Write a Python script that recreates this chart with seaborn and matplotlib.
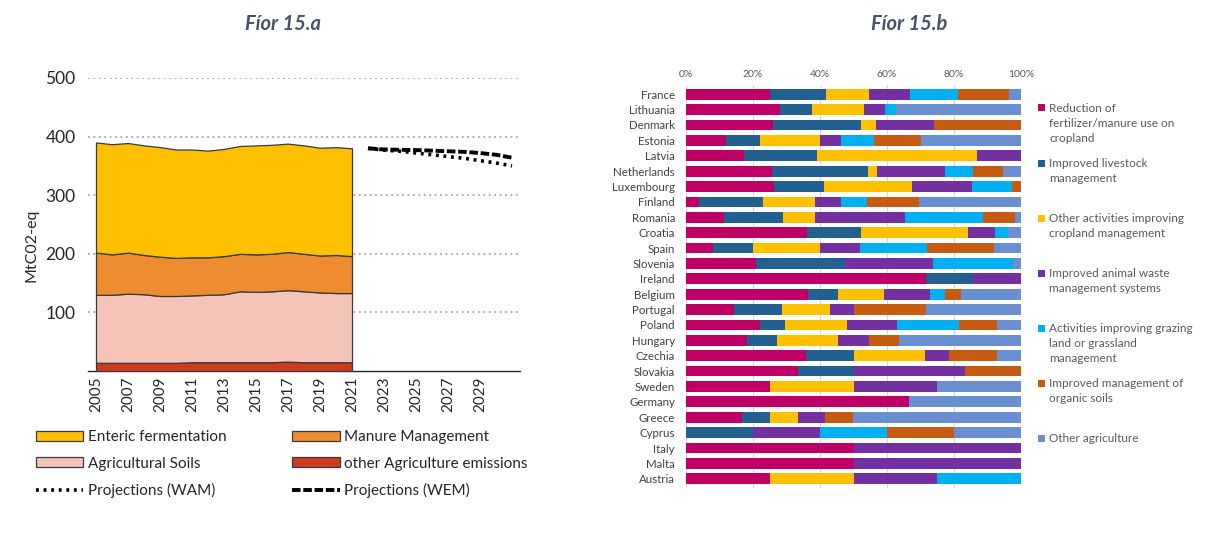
import numpy as np
import matplotlib
matplotlib.use("Agg")
import matplotlib.pyplot as plt
import matplotlib.patches as mpatches
import seaborn as sns

# ---- data: Fíor 15.a (MtCO2-eq) ----
years = list(range(2005, 2022))
other_agri = [14, 14, 14, 14, 14, 14, 15, 15, 15, 15, 15, 15, 16, 15, 15, 15, 15]
agri_soils = [116, 116, 118, 117, 114, 114, 114, 115, 116, 121, 120, 121, 122, 121, 119, 118, 118]
manure = [72, 69, 70, 67, 67, 65, 65, 64, 65, 64, 64, 64, 65, 64, 63, 65, 63]
enteric = [188, 188, 187, 187, 187, 185, 184, 182, 183, 184, 186, 186, 185, 185, 184, 184, 184]

proj_years = list(range(2022, 2032))
proj_wem = [380, 378, 377.5, 377, 376, 375, 374, 372, 369, 364]
proj_wam = [380, 377, 375, 372, 369, 366, 363, 359, 355, 350]

# ---- data: Fíor 15.b (share, %) ----
countries = ["France", "Lithuania", "Denmark", "Estonia", "Latvia", "Netherlands",
             "Luxembourg", "Finland", "Romania", "Croatia", "Spain", "Slovenia",
             "Ireland", "Belgium", "Portugal", "Poland", "Hungary", "Czechia",
             "Slovakia", "Sweden", "Germany", "Greece", "Cyprus", "Italy", "Malta",
             "Austria"]
fertilizer = [25, 28.1, 26.1, 11.9, 17.4, 25.7, 26.4, 3.9, 11.4, 36.1, 8, 21, 71.5,
              36.4, 14.3, 22.2, 18.2, 35.7, 33.3, 25, 66.7, 16.7, 0, 50, 50, 25]
livestock = [16.7, 9.6, 26.1, 10.1, 21.8, 28.7, 14.8, 19.2, 17.5, 16, 12, 26.5, 14.3,
             9, 14.3, 7.5, 9.1, 14.3, 16.7, 0, 0, 8.3, 20, 0, 0, 0]
cropland = [13, 15.5, 4.4, 18, 47.8, 2.7, 26.4, 15.4, 9.6, 32.1, 20, 0, 0,
            13.7, 14.3, 18.5, 18.2, 21.4, 0, 25, 0, 8.3, 0, 0, 0, 25]
animal_waste = [12.2, 6.3, 17.4, 6.2, 13, 20.3, 17.9, 7.8, 26.9, 7.9, 12, 26.2, 14.2,
                13.6, 7.1, 14.9, 9.1, 7.1, 33.3, 25, 0, 8.3, 20, 50, 50, 25]
grazing = [14.2, 3.1, 0, 9.9, 0, 8.4, 11.8, 7.6, 23.2, 4, 20, 24, 0,
           4.7, 0, 18.5, 0, 0, 0, 0, 0, 0, 20, 0, 0, 25]
organic_soils = [15.4, 0, 26, 13.9, 0, 8.7, 2.7, 15.6, 9.6, 0, 20, 0, 0,
                 4.6, 21.5, 11.2, 9.1, 14.3, 16.7, 0, 0, 8.3, 20, 0, 0, 0]
other_measures = [3.5, 37.4, 0, 30, 0, 5.5, 0, 30.5, 1.8, 3.9, 8, 2.3, 0,
                  18, 28.5, 7.2, 36.3, 7.2, 0, 25, 33.3, 50.1, 20, 0, 0, 0]

measure_labels = ["Reduction of\nfertilizer/manure use on\ncropland",
                  "Improved livestock\nmanagement",
                  "Other activities improving\ncropland management",
                  "Improved animal waste\nmanagement systems",
                  "Activities improving grazing\nland or grassland\nmanagement",
                  "Improved management of\norganic soils",
                  "Other agriculture"]
measure_colors = ["#BE0066", "#24608F", "#FFC000", "#7330A0", "#00B0F0", "#C55A11", "#6A8FD0"]

sns.set_theme(style="white")
plt.rcParams["font.family"] = ["Lato", "DejaVu Sans"]
plt.rcParams["text.color"] = "#262626"

fig = plt.figure(figsize=(12.16, 5.57), dpi=100)
W, H = 1216, 557

# ================= left chart =================
ax1 = fig.add_axes([88 / W, 1 - 371 / H, 432 / W, 293 / H])
area_colors = ["#CF3A1E", "#F5C4B9", "#EE8C31", "#FFC000"]
area_labels = ["other Agriculture emissions", "Agricultural Soils",
               "Manure Management", "Enteric fermentation"]
ax1.stackplot(years, other_agri, agri_soils, manure, enteric,
              colors=area_colors, labels=area_labels,
              edgecolor="#3a3a3a", linewidth=0.9, zorder=3)

sns.lineplot(x=proj_years, y=proj_wam, ax=ax1, color="black", linewidth=2.6,
             linestyle=(0, (0.8, 1.3)), label="Projections (WAM)", zorder=4)
sns.lineplot(x=proj_years, y=proj_wem, ax=ax1, color="black", linewidth=2.8,
             linestyle=(0, (2.2, 0.7)), label="Projections (WEM)", zorder=4)

ax1.set_xlim(2004.5, 2031.5)
ax1.set_ylim(0, 500)
ax1.set_yticks([100, 200, 300, 400, 500])
ax1.set_xticks(list(range(2005, 2030, 2)))
ax1.tick_params(axis="x", labelrotation=90, labelsize=11, pad=4, length=0,
                colors="#262626")
ax1.tick_params(axis="y", labelsize=12.5, pad=9, length=0, colors="#262626")
ax1.grid(axis="y", linestyle=(0, (1, 2)), color="#A6A6A6", linewidth=1.3)
ax1.set_axisbelow(True)
for s in ["left", "right", "top"]:
    ax1.spines[s].set_visible(False)
ax1.spines["bottom"].set_color("#262626")
ax1.spines["bottom"].set_linewidth(1)
ax1.set_ylabel("MtC02-eq", fontsize=11.5, color="#262626")
ax1.yaxis.set_label_coords(-0.115, 0.43)
ax1.set_xlabel("")

handles, labels = ax1.get_legend_handles_labels()
hmap = dict(zip(labels, handles))
order = ["Enteric fermentation", "Agricultural Soils", "Projections (WAM)",
         "Manure Management", "other Agriculture emissions", "Projections (WEM)"]
ax1.legend([hmap[k] for k in order], order, ncol=2, frameon=False,
           loc="upper left", bbox_to_anchor=(36 / W, 1 - 430 / H),
           bbox_transform=fig.transFigure, borderaxespad=0, borderpad=0,
           fontsize=11, handlelength=3.1, handleheight=0.65,
           handletextpad=0.3, labelspacing=0.82, columnspacing=4.3)

fig.text(283 / W, 1 - 24 / H, "Fíor 15.a", ha="center", va="center",
         fontsize=14.5, fontweight="bold", fontstyle="italic", color="#44546A")

# ================= right chart =================
ax2 = fig.add_axes([686 / W, 1 - 488 / H, 335 / W, 403 / H])
series = [fertilizer, livestock, cropland, animal_waste, grazing,
          organic_soils, other_measures]
cum = np.cumsum(np.array(series), axis=0)
# draw cumulative totals from the widest down so that each segment shows
for i in reversed(range(len(series))):
    sns.barplot(x=cum[i], y=countries, orient="h", color=measure_colors[i],
                saturation=1, width=0.7, errorbar=None, linewidth=0, ax=ax2,
                zorder=3)

ax2.set_xlim(0, 100)
ax2.set_ylim(len(countries) - 0.4, -0.6)
ax2.set_xticks([0, 20, 40, 60, 80, 100])
ax2.set_xticklabels(["0%", "20%", "40%", "60%", "80%", "100%"])
ax2.xaxis.tick_top()
ax2.tick_params(axis="x", labelsize=7.5, pad=4, length=0, colors="#595959")
ax2.tick_params(axis="y", labelsize=8.3, pad=8, length=0, colors="#404040")
ax2.grid(axis="x", color="#D9D9D9", linewidth=0.8)
ax2.set_axisbelow(True)
for s in ax2.spines.values():
    s.set_visible(False)
ax2.set_xlabel("")
ax2.set_ylabel("")

# legend on the right: entries spaced evenly, square aligned with first line
for i, (lab, col) in enumerate(zip(measure_labels, measure_colors)):
    yc = 108 + i * 55.1
    fig.patches.append(mpatches.Rectangle((1038 / W, 1 - (yc + 3.5) / H),
                                          7 / W, 7 / H, transform=fig.transFigure,
                                          facecolor=col, edgecolor="none"))
    fig.text(1049 / W, 1 - (yc - 5.5) / H, lab, ha="left", va="top",
             fontsize=8.5, color="#595959", linespacing=1.45)

fig.text(909 / W, 1 - 24 / H, "Fíor 15.b", ha="center", va="center",
         fontsize=14.5, fontweight="bold", fontstyle="italic", color="#44546A")

fig.savefig("out.png", dpi=100)
